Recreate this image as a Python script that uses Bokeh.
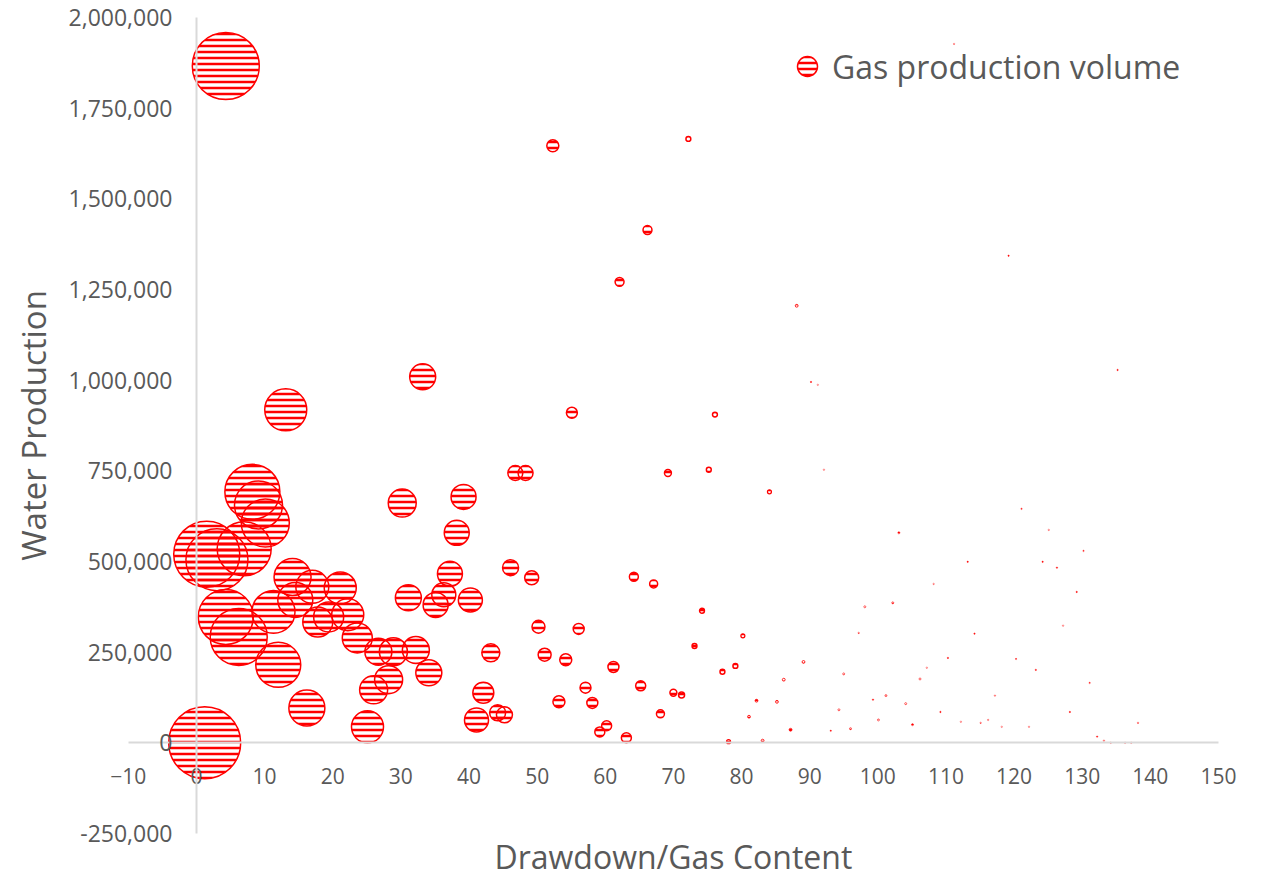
import numpy as np
from bokeh.plotting import figure
from bokeh.models import (Range1d, FixedTicker, NumeralTickFormatter, Label,
                          Legend, LegendItem, ColumnDataSource)
from bokeh.embed import file_html
from bokeh.resources import INLINE

# ---- data ----
drawdown_gas = [4.3, 1.2, 13.1, 33.2, 8.2, 9.1, 10.1, 1.5, 3.0, 7.0,
                4.3, 6.2, 11.3, 12.0, 14.1, 17.0, 21.1, 14.5, 17.8, 19.4,
                22.2, 23.6, 26.7, 28.9, 32.2, 34.1, 28.2, 26.0, 16.2, 25.1,
                31.1, 35.1, 36.3, 40.2, 30.2, 39.2, 38.2, 37.2, 46.8, 48.3,
                46.1, 49.2, 42.1, 41.1, 44.2, 45.2, 43.2, 50.2, 51.1, 52.3,
                72.2, 66.2, 62.1, 88.1, 55.1, 76.1, 90.2, 91.2, 69.2, 75.2,
                84.1, 103.1, 64.2, 67.1, 74.2, 80.2, 73.1, 79.1, 77.2, 89.1,
                86.2, 82.2, 85.2, 81.1, 87.2, 83.1, 78.1, 56.1, 54.2, 61.2,
                57.1, 65.2, 70.0, 71.2, 53.2, 58.1, 68.1, 60.2, 59.2, 63.1,
                98.1, 102.2, 97.2, 95.0, 101.2, 99.3, 104.1, 94.3, 100.1, 105.1,
                96.0, 93.1, 106.2, 111.2, 119.2, 135.2, 121.1, 125.1, 130.2, 113.2,
                124.2, 126.3, 108.2, 129.2, 127.2, 114.2, 110.3, 120.3, 107.2, 123.2,
                131.1, 117.2, 109.2, 128.2, 112.2, 115.1, 116.2, 138.2, 118.2, 122.2,
                132.2, 133.2, 134.2, 136.3, 137.2, 92.1]

water_production = [1866000, 0, 918000, 1009000, 692000, 656000, 606000, 520000, 505000, 535000,
                    347000, 292000, 361000, 215000, 457000, 430000, 427000, 394000, 333000, 347000,
                    353000, 289000, 251000, 251000, 256000, 193000, 174000, 146000, 96000, 44000,
                    400000, 380000, 408000, 394000, 661000, 678000, 579000, 466000, 744000, 744000,
                    483000, 455000, 138000, 63000, 83000, 77000, 248000, 320000, 243000, 1646000,
                    1665000, 1414000, 1271000, 1205000, 910000, 905000, 995000, 987000, 744000, 753000,
                    692000, 579000, 458000, 438000, 364000, 295000, 267000, 212000, 196000, 223000,
                    174000, 116000, 113000, 72000, 36000, 6000, 3000, 314000, 229000, 209000,
                    152000, 157000, 138000, 132000, 113000, 110000, 80000, 47000, 30000, 14000,
                    375000, 386000, 303000, 190000, 130000, 119000, 108000, 91000, 63000, 50000,
                    39000, 33000, 176000, 1927000, 1343000, 1028000, 645000, 587000, 529000, 499000,
                    499000, 483000, 438000, 416000, 323000, 301000, 234000, 231000, 207000, 201000,
                    165000, 130000, 85000, 85000, 58000, 55000, 63000, 55000, 44000, 44000,
                    17000, 6000, 0, 0, 0, 753000]

gas_volume = [2244000, 2592000, 882000, 338000, 1512000, 1152000, 1152000, 2178000, 1922000, 1458000,
              1512000, 1624000, 924000, 1012000, 684000, 544000, 512000, 612000, 450000, 450000,
              512000, 450000, 364000, 392000, 364000, 338000, 392000, 392000, 648000, 512000,
              338000, 312000, 288000, 288000, 392000, 312000, 312000, 312000, 112000, 112000,
              128000, 98000, 220000, 288000, 128000, 128000, 162000, 84000, 84000, 72000,
              12000, 40000, 40000, 4000, 60000, 12000, 1000, 1000, 24000, 12000,
              8000, 2000, 40000, 32000, 12000, 8000, 12000, 12000, 12000, 4000,
              4000, 4000, 4000, 4000, 4000, 4000, 8000, 60000, 72000, 60000,
              60000, 50000, 24000, 18000, 72000, 60000, 32000, 50000, 50000, 50000,
              2000, 2000, 1000, 2000, 2000, 1000, 2000, 2000, 2000, 2000,
              2000, 1000, 2000, 1000, 1000, 1000, 1000, 1000, 1000, 1000,
              1000, 1000, 1000, 1000, 1000, 1000, 1000, 1000, 1000, 1000,
              1000, 1000, 1000, 1000, 1000, 1000, 1000, 1000, 1000, 1000,
              1000, 1000, 1000, 1000, 1000, 1000]

x_ticks = list(range(-10, 151, 10))
y_ticks = list(range(-250000, 2000001, 250000))

x_title = "Drawdown/Gas Content"
y_title = "Water Production"
series_name = "Gas production volume"

# ---- styling / layout ----
RED = "#FF0000"
GREY_TEXT = "#595959"
FONT = "Open Sans"
BUBBLE_SCALE = 500.0
W, H = 1260, 878
# visible window (the frame fills the whole canvas; axes are bounded to the ticks)
X_VIEW = (-28.77, 156.18)
Y_VIEW = (-374170, 2046760)

size = np.sqrt(np.array(gas_volume, dtype=float) / BUBBLE_SCALE)
lw = np.minimum(1.5, size * 0.3)
src = ColumnDataSource(dict(x=drawdown_gas, y=water_production, size=size, lw=lw))

p = figure(width=W, height=H,
           x_range=Range1d(*X_VIEW), y_range=Range1d(*Y_VIEW),
           output_backend="svg", toolbar_location=None,
           min_border_left=0, min_border_top=0, min_border_right=0, min_border_bottom=0)
p.outline_line_color = None
p.grid.visible = False
p.background_fill_color = "white"

r = p.scatter("x", "y", size="size", source=src, marker="circle",
              fill_alpha=0, line_color=RED, line_width="lw",
              hatch_pattern="horizontal_line", hatch_color=RED,
              hatch_scale=6, hatch_weight=2.5)

for ax in (p.xaxis[0], p.yaxis[0]):
    ax.fixed_location = 0
    ax.major_tick_line_color = None
    ax.minor_tick_line_color = None
    ax.major_tick_out = 0
    ax.major_tick_in = 0
    ax.axis_line_color = "#D9D9D9"
    ax.axis_line_width = 2
    ax.major_label_text_font = FONT
    ax.major_label_text_color = GREY_TEXT

p.xaxis[0].major_label_text_font_size = "21px"
p.yaxis[0].major_label_text_font_size = "23px"
p.xaxis[0].ticker = FixedTicker(ticks=x_ticks)
p.yaxis[0].ticker = FixedTicker(ticks=y_ticks)
p.xaxis[0].bounds = (x_ticks[0], x_ticks[-1])
p.yaxis[0].bounds = (y_ticks[0], y_ticks[-1])
p.xaxis[0].major_label_standoff = 25
p.yaxis[0].major_label_standoff = 24
p.yaxis[0].formatter = NumeralTickFormatter(format="0,0")

# axis titles
p.add_layout(Label(x=(x_ticks[0] + x_ticks[-1]) / 2, y=22, x_units="data", y_units="screen",
                   text=x_title, text_align="center", text_baseline="alphabetic",
                   text_font=FONT, text_font_size="32px", text_color=GREY_TEXT))
p.add_layout(Label(x=33, y=(y_ticks[0] + y_ticks[-1]) / 2, x_units="screen", y_units="data",
                   text=y_title, angle=np.pi / 2, text_align="center",
                   text_baseline="alphabetic",
                   text_font=FONT, text_font_size="33px", text_color=GREY_TEXT))

legend = Legend(items=[LegendItem(label=series_name, renderers=[r])],
                location=(782, 787), glyph_width=50, glyph_height=50,
                label_text_font=FONT, label_text_font_size="32px",
                label_text_color=GREY_TEXT, border_line_color=None,
                background_fill_alpha=0, padding=0, margin=0, spacing=0,
                label_standoff=0)
p.add_layout(legend)

open("out.html", "w").write(file_html(p, INLINE))
